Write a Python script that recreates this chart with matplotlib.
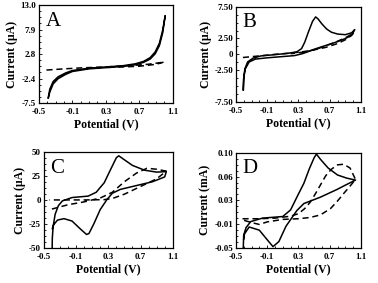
import matplotlib
matplotlib.use("Agg")
import matplotlib.pyplot as plt
from matplotlib.ticker import AutoMinorLocator

plt.rcParams['font.family'] = ['Liberation Serif', 'DejaVu Serif']
plt.rcParams['font.weight'] = 'bold'

# ---- panel A (uA) ----
a_solid_x = [-0.39, -0.37, -0.33, -0.27, -0.18, -0.1, 0.1, 0.3, 0.5, 0.65, 0.75, 0.83, 0.89, 0.94, 0.98, 1.01,
             0.98, 0.94, 0.89, 0.83, 0.75, 0.65, 0.5, 0.3, 0.1, -0.1, -0.18, -0.27, -0.33, -0.37, -0.385]
a_solid_y = [-6.5, -4.6, -3.0, -2.0, -1.2, -0.7, -0.2, 0.05, 0.3, 0.7, 1.2, 2.0, 3.2, 5.0, 7.8, 10.8,
             7.2, 4.5, 2.8, 1.7, 1.0, 0.5, 0.15, -0.1, -0.35, -0.9, -1.5, -2.4, -3.5, -5.2, -6.3]
a_dash_x = [-0.41, -0.2, 0.0, 0.3, 0.6, 0.8, 0.95, 1.0, 0.9, 0.7, 0.5, 0.3]
a_dash_y = [-0.6, -0.35, -0.15, 0.05, 0.35, 0.6, 0.95, 1.1, 0.6, 0.2, 0.05, -0.05]

# ---- panel B (uA) ----
b_solid_x = [-0.405, -0.40, -0.385, -0.35, -0.28, -0.18, 0.0, 0.16, 0.28, 0.34, 0.38, 0.43, 0.48, 0.52, 0.55,
             0.6, 0.66, 0.72, 0.8, 0.9, 0.98, 1.02,
             0.98, 0.9, 0.8, 0.7, 0.6, 0.5, 0.42, 0.35, 0.25, 0.1, -0.1, -0.25, -0.33, -0.38, -0.40, -0.405]
b_solid_y = [-5.6, -3.8, -2.3, -1.2, -0.6, -0.25, -0.05, 0.15, 0.4, 0.9, 1.9, 3.6, 5.2, 5.9, 5.6,
             4.8, 4.0, 3.5, 3.2, 3.1, 3.4, 3.9,
             3.0, 2.5, 2.0, 1.6, 1.2, 0.8, 0.4, 0.1, -0.2, -0.35, -0.55, -0.75, -1.2, -2.3, -3.8, -5.6]
b_dash_x = [-0.41, -0.2, 0.0, 0.2, 0.35, 0.5, 0.65, 0.8, 0.9, 0.97, 1.01, 0.9, 0.75, 0.55, 0.4, 0.2]
b_dash_y = [-0.5, -0.25, 0.0, 0.2, 0.4, 0.7, 1.1, 1.7, 2.3, 2.9, 3.4, 2.6, 1.8, 0.9, 0.4, 0.1]

# ---- panel C (uA) ----
c_solid_x = [-0.397, -0.395, -0.385, -0.36, -0.32, -0.27, -0.15, 0.05, 0.15, 0.25, 0.33, 0.4, 0.43, 0.48, 0.6, 0.75,
             0.9, 1.02,
             1.0, 0.85, 0.6, 0.45, 0.35, 0.28, 0.2, 0.12, 0.06, 0.03, -0.05, -0.15, -0.25, -0.33, -0.38, -0.395]
c_solid_y = [-52, -40, -28, -15, -6, -1, 2.5, 4, 8, 18, 32, 44, 46, 43, 36, 31,
             29, 29.5,
             24, 19, 14, 11, 7, 0, -10, -25, -35, -36, -30, -22, -19.5, -21, -26, -30]
c_dash_x = [-0.40, -0.2, 0.0, 0.2, 0.35, 0.5, 0.65, 0.78, 0.9, 1.02,
            0.9, 0.7, 0.5, 0.35, 0.25, 0.0, -0.43]
c_dash_y = [-9.5, -5, -2, 2, 8, 19, 28, 33, 32, 30,
            22, 14, 6, 1.5, 0.3, 0, 0]

# ---- panel D (mA) ----
d_solid_x = [-0.406, -0.40, -0.37, -0.31, -0.16, 0.1, 0.2, 0.3, 0.37, 0.44, 0.5, 0.53, 0.58, 0.68,
             0.8, 0.92, 1.03,
             0.9, 0.79, 0.58, 0.37, 0.28, 0.14, 0.05, -0.025, -0.08, -0.2, -0.33, -0.39, -0.40]
d_solid_y = [-0.052, -0.030, -0.018, -0.0085, -0.003, -0.0005, 0.010, 0.035, 0.052, 0.075, 0.092, 0.098, 0.09, 0.076,
             0.065, 0.060, 0.057,
             0.049, 0.042, 0.030, 0.020, 0.009, -0.016, -0.040, -0.048, -0.040, -0.022, -0.017, -0.028, -0.036]
d_dash_x = [-0.415, -0.2, 0.0, 0.2, 0.3, 0.38, 0.45, 0.52, 0.58, 0.65, 0.72, 0.8, 0.88, 0.96, 1.03,
            0.95, 0.88, 0.8, 0.71, 0.58, 0.45, 0.3, 0.1, -0.1, -0.2, -0.3, -0.41]
d_dash_y = [-0.004, -0.004, -0.003, 0.0, 0.004, 0.012, 0.022, 0.036, 0.049, 0.064, 0.074, 0.081, 0.082, 0.076, 0.058,
            0.046, 0.036, 0.024, 0.012, 0.002, -0.002, -0.004, -0.005, -0.009, -0.013, -0.010, -0.006]

a_yticks = [-7.5, -2.375, 2.75, 7.875, 13.0]
a_ylabels = ['-7.5', '-2.4', '2.8', '7.9', '13.0']
b_yticks = [-7.5, -2.5, 0, 2.5, 7.5]
b_ylabels = ['-7.50', '-2.50', '0', '2.50', '7.50']
c_yticks = [-50, -25, 0, 25, 50]
c_ylabels = ['-50', '-25', '0', '25', '50']
d_yticks = [-0.05, -0.0125, 0.025, 0.0625, 0.10]
d_ylabels = ['-0.05', '-0.01', '0.03', '0.06', '0.10']
xticks = [-0.5, -0.1, 0.3, 0.7, 1.1]
xlabels = ['-0.5', '-0.1', '0.3', '0.7', '1.1']

panels = [
    ('A', [0.103, 0.636, 0.354, 0.346], a_solid_x, a_solid_y, a_dash_x, a_dash_y, a_yticks, a_ylabels, 'Current (\u03bcA)'),
    ('B', [0.624, 0.640, 0.331, 0.336], b_solid_x, b_solid_y, b_dash_x, b_dash_y, b_yticks, b_ylabels, 'Current (\u03bcA)'),
    ('C', [0.116, 0.124, 0.341, 0.339], c_solid_x, c_solid_y, c_dash_x, c_dash_y, c_yticks, c_ylabels, 'Current (\u03bcA)'),
    ('D', [0.624, 0.124, 0.331, 0.336], d_solid_x, d_solid_y, d_dash_x, d_dash_y, d_yticks, d_ylabels, 'Current (mA)'),
]

fig = plt.figure(figsize=(3.78, 2.83), dpi=100)

for letter, pos, sx, sy, dx, dy, yt, yl, ylab in panels:
    ax = fig.add_axes(pos)
    ax.plot(sx, sy, color='black', lw=1.1)
    ax.plot(dx, dy, color='black', lw=1.1, ls=(0, (4, 2.5)))
    ax.set_xlim(-0.5, 1.1)
    ax.set_ylim(yt[0], yt[-1])
    ax.set_xticks(xticks)
    ax.set_xticklabels(xlabels)
    ax.set_yticks(yt)
    ax.set_yticklabels(yl)
    ax.xaxis.set_minor_locator(AutoMinorLocator(4))
    ax.yaxis.set_minor_locator(AutoMinorLocator(4))
    ax.tick_params(which='both', direction='in', labelsize=6.5, width=0.6)
    ax.tick_params(axis='x', pad=3.5)
    ax.tick_params(axis='y', pad=2)
    ax.tick_params(which='major', length=2.5)
    ax.tick_params(which='minor', length=1.2)
    for lab in ax.get_xticklabels() + ax.get_yticklabels():
        lab.set_fontweight('bold')
    for sp in ax.spines.values():
        sp.set_linewidth(0.9)
    ax.set_xlabel('Potential (V)', fontsize=8.5, fontweight='bold', labelpad=2)
    ax.set_ylabel(ylab, fontsize=8.5, fontweight='bold', labelpad=2)
    ax.text(0.05, 0.93, letter, transform=ax.transAxes, fontsize=15, fontweight='normal',
            va='top', ha='left')

fig.savefig('out.png', dpi=100)
